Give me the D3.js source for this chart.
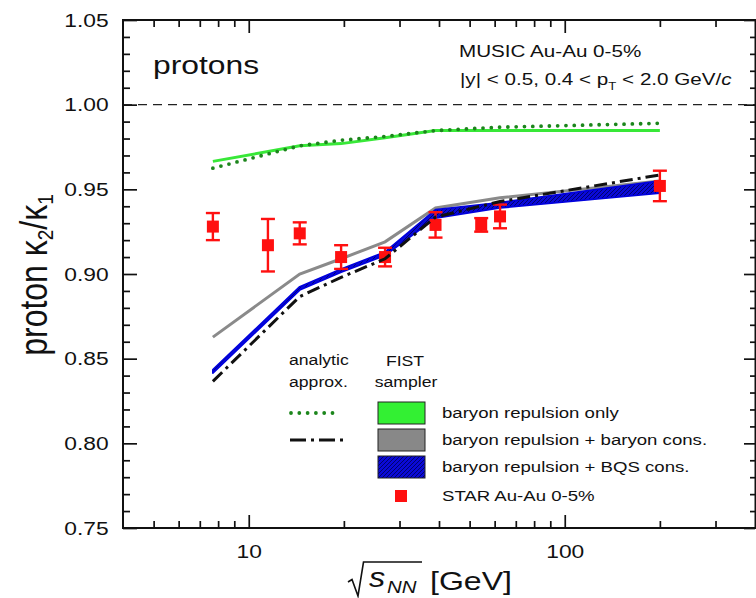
<!DOCTYPE html>
<html>
<head>
<meta charset="utf-8">
<script src="https://cdn.jsdelivr.net/npm/d3@7"></script>
<style>
body{margin:0;background:#fff}
text{font-family:"Liberation Sans",Arial,Helvetica,sans-serif;fill:#111}
</style>
</head>
<body>
<div id="chart"></div>
<script>
// FIST sampler energies (GeV)
var fistEnergy = [7.7, 14.5, 19.6, 27, 39, 62.4, 200]
var fistRepulsion = [0.9665, 0.9757, 0.977, 0.9805, 0.9847, 0.9847, 0.9847]
var fistBaryonCons = [0.8627, 0.900, 0.909, 0.919, 0.939, 0.945, 0.955]
var fistBQSLow = [0.8415, 0.8905, 0.901, 0.911, 0.933, 0.939, 0.9477]
var fistBQSHigh = [0.8435, 0.8925, 0.903, 0.913, 0.938, 0.9422, 0.955]
// analytic approximation
var analyticRepulsion = [0.9625, 0.9757, 0.979, 0.9812, 0.9847, 0.9867, 0.989]
var analyticBaryonCons = [0.8366, 0.8867, 0.898, 0.909, 0.9336, 0.9428, 0.9585]
// STAR data
var starEnergy = [7.7, 11.5, 14.5, 19.6, 27, 39, 54.4, 62.4, 200]
var starValue = [0.928, 0.917, 0.924, 0.910, 0.910, 0.929, 0.929, 0.934, 0.952]
var starError = [0.008, 0.0155, 0.0065, 0.007, 0.0055, 0.0075, 0.004, 0.007, 0.009]
// ticks
var xMajor = [10, 100]
var xMinor = [5, 6, 7, 8, 9, 20, 30, 40, 50, 60, 70, 80, 90, 200, 300]
var yMajor = [0.75, 0.80, 0.85, 0.90, 0.95, 1.00, 1.05]
var yMinor = d3.range(75, 106).map(function(d){return d/100}).filter(function(d){return Math.round(d*100)%5!=0})

var width = 756, height = 598
var pLeft = 123, pRight = 755, pTop = 20, pBottom = 528
var SX = 1.2 // the original figure is stretched sideways

var x = d3.scaleLog().domain([4, 400]).range([pLeft, pRight])
var y = d3.scaleLinear().domain([0.75, 1.05]).range([pBottom, pTop])

var svg = d3.select("#chart").append("svg").attr("width", width).attr("height", height)

var defs = svg.append("defs")
var hatch = defs.append("pattern").attr("id", "hatch").attr("patternUnits", "userSpaceOnUse")
	.attr("width", 4).attr("height", 4)
hatch.append("rect").attr("width", 4).attr("height", 4).attr("fill", "#0a0ad8")
hatch.append("path").attr("d", "M-1,1 l2,-2 M0,4 l4,-4 M3,5 l2,-2")
	.attr("stroke", "#000060").attr("stroke-width", 0.9)

defs.append("clipPath").attr("id", "plotclip").append("rect")
	.attr("x", pLeft).attr("y", pTop).attr("width", pRight - pLeft).attr("height", pBottom - pTop)

// stretched text helper
function stext(g, px, py, size, anchor){
	return g.append("g").attr("transform", "translate(" + px + "," + py + ") scale(" + SX + ",1)")
		.append("text").attr("text-anchor", anchor || "start").style("font-size", size + "px")
}

// ticks
function ticks(axis, pos, vals, size, labels){
	var g = svg.append("g").attr("transform", pos)
		.call(axis.tickValues(vals).tickSize(-size).tickPadding(labels ? labels.pad : 0)
			.tickFormat(labels ? labels.fmt : ""))
	g.select(".domain").remove()
	g.selectAll("line").attr("stroke", "#111").attr("stroke-width", 1.7)
	g.selectAll("text").style("font-size", "19px").attr("fill", "#111")
		.attr("transform", "scale(" + SX + ",1)")
	return g
}
ticks(d3.axisBottom(x), "translate(0," + pBottom + ")", xMinor, 7)
ticks(d3.axisBottom(x), "translate(0," + pBottom + ")", xMajor, 13, {pad: 17, fmt: d3.format("d")})
ticks(d3.axisTop(x), "translate(0," + pTop + ")", xMinor, 7)
ticks(d3.axisTop(x), "translate(0," + pTop + ")", xMajor, 13)
ticks(d3.axisLeft(y), "translate(" + pLeft + ",0)", yMinor, 7)
ticks(d3.axisLeft(y), "translate(" + pLeft + ",0)", yMajor, 14, {pad: 12, fmt: d3.format(".2f")})
ticks(d3.axisRight(y), "translate(" + pRight + ",0)", yMinor, 5)
ticks(d3.axisRight(y), "translate(" + pRight + ",0)", yMajor, 11)

// reference line at 1
svg.append("line").attr("x1", pLeft).attr("x2", pRight).attr("y1", y(1)).attr("y2", y(1))
	.attr("stroke", "#222").attr("stroke-width", 1.4).attr("stroke-dasharray", "9,6")

var plot = svg.append("g").attr("clip-path", "url(#plotclip)")
var line = d3.line().x(function(d){return x(d[0])}).y(function(d){return y(d[1])})
function pairs(xs, ys){ return xs.map(function(v, i){return [v, ys[i]]}) }

// FIST baryon repulsion only
plot.append("path").attr("d", line(pairs(fistEnergy, fistRepulsion)))
	.attr("fill", "none").attr("stroke", "#38e838").attr("stroke-width", 3)
// analytic repulsion only (dotted)
plot.append("path").attr("d", line(pairs(fistEnergy, analyticRepulsion)))
	.attr("fill", "none").attr("stroke", "#1c861c").attr("stroke-width", 3.8)
	.attr("stroke-linecap", "round").attr("stroke-dasharray", "0,8.3")
// FIST baryon cons.
plot.append("path").attr("d", line(pairs(fistEnergy, fistBaryonCons)))
	.attr("fill", "none").attr("stroke", "#8a8a8a").attr("stroke-width", 3)
// FIST BQS cons. band
var band = d3.area().x(function(d, i){return x(fistEnergy[i])})
	.y0(function(d, i){return y(fistBQSLow[i])}).y1(function(d, i){return y(fistBQSHigh[i])})
plot.append("path").attr("d", band(fistEnergy))
	.attr("fill", "url(#hatch)").attr("stroke", "#0000dd").attr("stroke-width", 1.7)
	.attr("stroke-linejoin", "round")

// STAR points
var star = plot.selectAll(".star").data(starEnergy).enter().append("g")
star.append("line").attr("x1", function(d){return x(d)}).attr("x2", function(d){return x(d)})
	.attr("y1", function(d, i){return y(starValue[i] + starError[i])})
	.attr("y2", function(d, i){return y(starValue[i] - starError[i])})
	.attr("stroke", "#ff1010").attr("stroke-width", 2.4)
star.each(function(d, i){
	var g = d3.select(this)
	;[starValue[i] + starError[i], starValue[i] - starError[i]].forEach(function(v){
		g.append("line").attr("x1", x(d) - 7).attr("x2", x(d) + 7).attr("y1", y(v)).attr("y2", y(v))
			.attr("stroke", "#ff1010").attr("stroke-width", 2.4)
	})
})
star.append("rect").attr("x", function(d){return x(d) - 6})
	.attr("y", function(d, i){return y(starValue[i]) - 6})
	.attr("width", 12).attr("height", 12).attr("fill", "#ff1010")

// analytic baryon cons. (dash-dot)
plot.append("path").attr("d", line(pairs(fistEnergy, analyticBaryonCons)))
	.attr("fill", "none").attr("stroke", "#111").attr("stroke-width", 3)
	.attr("stroke-dasharray", "13,5,3,5")

// frame
svg.append("rect").attr("x", pLeft).attr("y", pTop).attr("width", pRight - pLeft + 0.5).attr("height", pBottom - pTop)
	.attr("fill", "none").attr("stroke", "#111").attr("stroke-width", 2)

// texts inside plot
stext(svg, 153, 74, 26.5).text("protons")
stext(svg, 459, 57, 17.2).text("MUSIC Au-Au 0-5%")
var cond = stext(svg, 460, 85, 17.2)
cond.append("tspan").text("|y| < 0.5, 0.4 < p")
cond.append("tspan").attr("dy", 5).style("font-size", "11px").text("T")
cond.append("tspan").attr("dy", -5).text(" < 2.0 GeV/")
cond.append("tspan").style("font-style", "italic").text("c")

// legend
stext(svg, 289, 365, 14.7).text("analytic")
stext(svg, 289, 387, 14.7).text("approx.")
stext(svg, 405, 366, 14.7, "middle").text("FIST")
stext(svg, 406, 387, 14.7, "middle").text("sampler")

svg.append("line").attr("x1", 291).attr("x2", 338).attr("y1", 413).attr("y2", 413)
	.attr("stroke", "#1c861c").attr("stroke-width", 3.8).attr("stroke-linecap", "round")
	.attr("stroke-dasharray", "0,8.3")
svg.append("line").attr("x1", 290).attr("x2", 343).attr("y1", 440).attr("y2", 440)
	.attr("stroke", "#111").attr("stroke-width", 3).attr("stroke-dasharray", "16,5,3,5")

var boxes = [
	{fill: "#33f033", y: 402, text: "baryon repulsion only"},
	{fill: "#888888", y: 429, text: "baryon repulsion + baryon cons."},
	{fill: "url(#hatch)", y: 456, text: "baryon repulsion + BQS cons."}
]
boxes.forEach(function(b){
	svg.append("rect").attr("x", 378).attr("y", b.y).attr("width", 47).attr("height", 22)
		.attr("fill", b.fill).attr("stroke", "#222").attr("stroke-width", 1)
	stext(svg, 442, b.y + 11, 15.5).attr("dy", "0.35em").text(b.text)
})
svg.append("rect").attr("x", 395).attr("y", 490).attr("width", 12).attr("height", 12).attr("fill", "#ff1010")
stext(svg, 442, 496, 15.5).attr("dy", "0.35em").text("STAR Au-Au 0-5%")

// y axis title
var yt = svg.append("g").attr("transform", "translate(47,275) rotate(-90) scale(1," + SX + ")")
	.append("text").attr("text-anchor", "middle").style("font-size", "32px")
yt.append("tspan").text("proton κ")
yt.append("tspan").attr("dy", 5).style("font-size", "19px").text("2")
yt.append("tspan").attr("dy", -5).text("/κ")
yt.append("tspan").attr("dy", 5).style("font-size", "19px").text("1")

// x axis title
svg.append("path").attr("d", "M348,582 L352,579.5 L358,596 L363.5,562 L422,562")
	.attr("fill", "none").attr("stroke", "#111").attr("stroke-width", 1.6)
stext(svg, 369, 587, 27).style("font-style", "italic").text("s")
stext(svg, 387, 593, 17).style("font-style", "italic").text("NN")
stext(svg, 430, 590, 26.7).text("[GeV]")
</script>
</body>
</html>
